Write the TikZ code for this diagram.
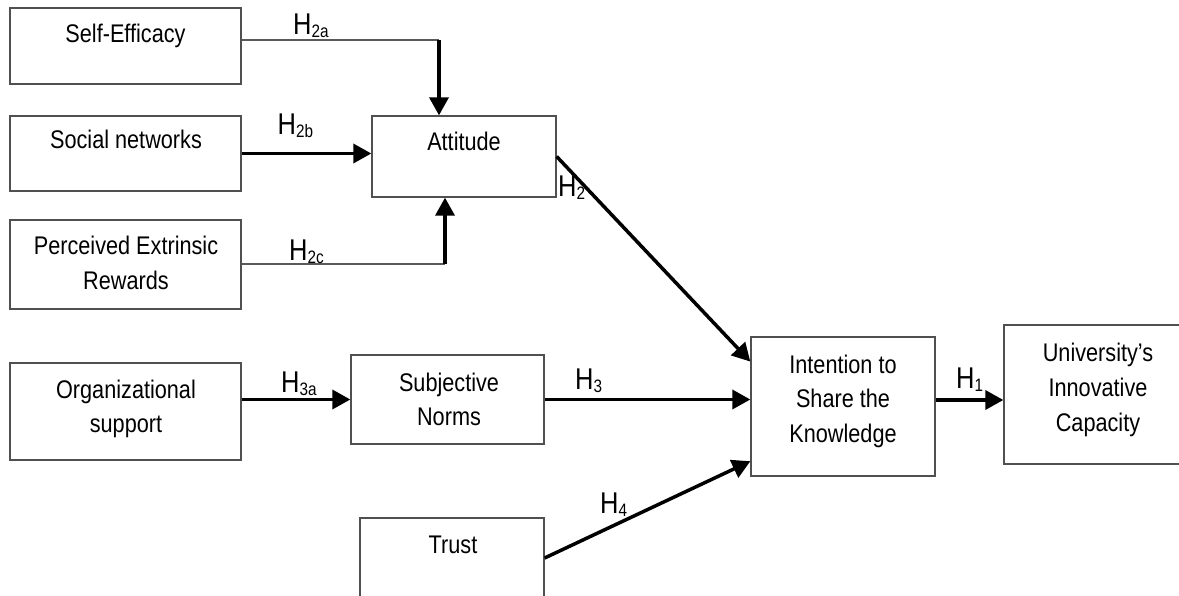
\documentclass[tikz,border=0pt]{standalone}
\usepackage{fontspec}
\setmainfont[FakeStretch=0.85]{Liberation Sans}
\usetikzlibrary{arrows.meta,calc}
\definecolor{boxgray}{HTML}{505050}
\definecolor{linegray}{HTML}{5A5A5A}
\newcommand\mline[1]{\begin{tabular}[t]{@{}c@{}}#1\end{tabular}}
\newcommand\Hlab[1]{{\fontsize{30}{30}\selectfont H}\raisebox{-3pt}{\fontsize{18}{18}\selectfont #1}}
\begin{document}
\begin{tikzpicture}[x=1pt,y=-1pt,
  box/.style={draw=boxgray,line width=1.3pt,rectangle,inner sep=0pt,minimum width=#1},
  txt/.style={anchor=base,inner sep=0pt,font=\fontsize{25.5}{35}\selectfont},
  hlab/.style={anchor=base west,inner sep=0pt},
  thinline/.style={draw=linegray,line width=1.5pt},
  arr/.style={draw=black,line width=3.5pt,-{Triangle[length=18pt,width=19pt]}}]
\useasboundingbox (0,0) rectangle (1179,596);
% boxes
\node[box=231pt,minimum height=76pt] (se) at (125.5,46) {};
\node[box=231pt,minimum height=75pt] (sn) at (125.5,153.5) {};
\node[box=231pt,minimum height=89pt] (per) at (125.5,264.5) {};
\node[box=184pt,minimum height=81pt] (att) at (464,156.5) {};
\node[box=231pt,minimum height=97pt] (org) at (125.5,411.5) {};
\node[box=193pt,minimum height=89pt] (subj) at (447.5,399.5) {};
\node[box=184pt,minimum height=80pt] (trust) at (452,558) {};
\node[box=184pt,minimum height=139pt] (int) at (843,406.5) {};
\node[box=196pt,minimum height=139pt] (uni) at (1102,394.5) {};
% texts
\node[txt] (tse) at (125.5,43) {Self-Efficacy};
\node[txt] (tsn) at (126,149) {Social networks};
\node[txt] (tper) at (126,255) {\mline{Perceived Extrinsic\\Rewards}};
\node[txt] (tatt) at (464,151) {Attitude};
\node[txt] (torg) at (126,398) {\mline{Organizational\\support}};
\node[txt] (tsubj) at (449,391) {\mline{Subjective\\Norms}};
\node[txt] (ttrust) at (453,553) {Trust};
\node[txt] (tint) at (843,373) {\mline{Intention to\\Share the\\Knowledge}};
\node[txt] (tuni) at (1098,362) {\mline{University’s\\Innovative\\Capacity}};
% helper coordinates
\coordinate (c1) at (439,40);
\coordinate (c2) at (445,264);
\coordinate (h1) at (0,400);
% connectors
\draw[thinline] (se.east |- c1) -- (c1);
\draw[arr] (c1) -- (c1 |- att.north);
\draw[arr] (sn.east) -- (sn.east -| att.west);
\draw[thinline] (per.east |- c2) -- (c2);
\draw[arr] (c2) -- (c2 |- att.south);
\draw[arr] (att.east) -- ($(int.north west)!0.18!(int.south west)$);
\draw[arr] (org.east |- subj.west) -- (subj.west);
\draw[arr] (subj.east) -- (subj.east -| int.west);
\draw[arr] (trust.east) -- ($(int.north west)!0.89!(int.south west)$);
\draw[arr] (int.east |- h1) -- (uni.west |- h1);
% labels
\node[hlab] (l2a) at (293,35) {\Hlab{2a}};
\node[hlab] (l2b) at (277.5,135) {\Hlab{2b}};
\node[hlab] (l2c) at (289,261) {\Hlab{2c}};
\node[hlab] (l2) at (558,197) {\Hlab{2}};
\node[hlab] (l3a) at (281,392) {\Hlab{3a}};
\node[hlab] (l3) at (575,389) {\Hlab{3}};
\node[hlab] (l1) at (956,388) {\Hlab{1}};
\node[hlab] (l4) at (600,513) {\Hlab{4}};
\end{tikzpicture}
\end{document}
